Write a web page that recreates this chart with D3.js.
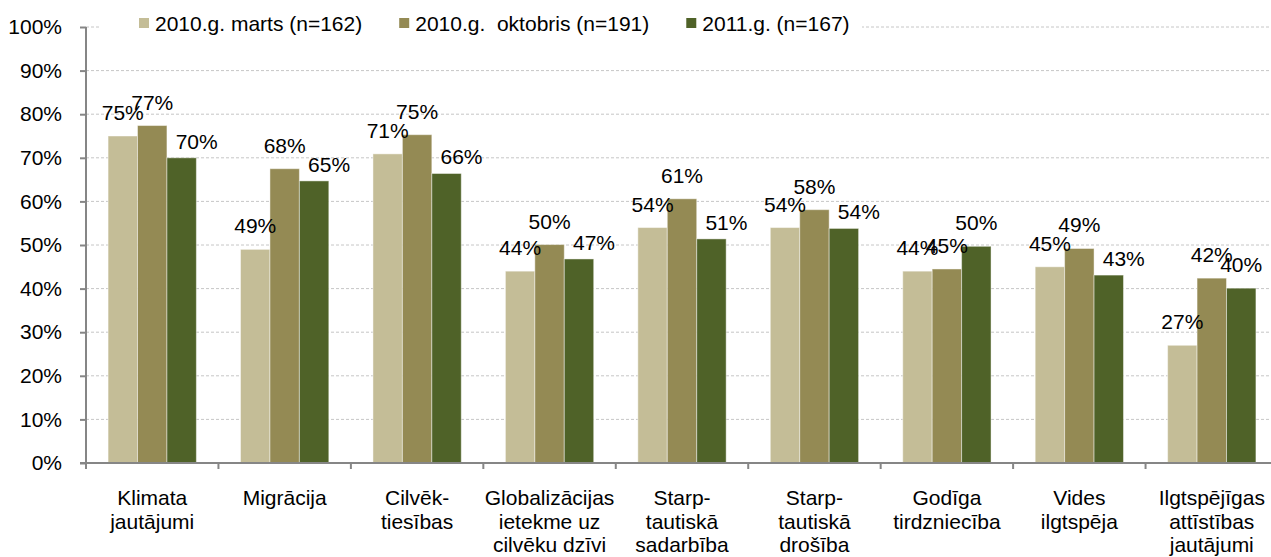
<!DOCTYPE html>
<html>
<head>
<meta charset="utf-8">
<script src="https://cdn.jsdelivr.net/npm/d3@7"></script>
<style>
  body { margin: 0; background: #fff; }
  text { font-family: "Liberation Sans", Arial, sans-serif; fill: #000; }
</style>
</head>
<body>
<script>
var categories = ["Klimata jautājumi", "Migrācija", "Cilvēktiesības", "Globalizācijas ietekme", "Starptautiskā sadarbība", "Starptautiskā drošība", "Godīga tirdzniecība", "Vides ilgtspēja", "Ilgtspējīgas attīstības jautājumi"];
var categoryLines = [
    ["Klimata", "jautājumi"],
    ["Migrācija"],
    ["Cilvēk-", "tiesības"],
    ["Globalizācijas", "ietekme uz", "cilvēku dzīvi"],
    ["Starp-", "tautiskā", "sadarbība"],
    ["Starp-", "tautiskā", "drošība"],
    ["Godīga", "tirdzniecība"],
    ["Vides", "ilgtspēja"],
    ["Ilgtspējīgas", "attīstības", "jautājumi"]
];
var seriesNames = ["2010.g. marts (n=162)", "2010.g.  oktobris (n=191)", "2011.g. (n=167)"];
var marts2010 = [0.750, 0.490, 0.709, 0.440, 0.540, 0.540, 0.440, 0.450, 0.270];
var oktobris2010 = [0.774, 0.675, 0.753, 0.501, 0.606, 0.581, 0.445, 0.492, 0.424];
var g2011 = [0.700, 0.647, 0.664, 0.468, 0.514, 0.538, 0.497, 0.431, 0.401];
var yTicks = [0, 0.1, 0.2, 0.3, 0.4, 0.5, 0.6, 0.7, 0.8, 0.9, 1];

var colors = ["#c4bd97", "#948a54", "#4f6228"];
var seriesValues = [marts2010, oktobris2010, g2011];

var width = 1271, height = 557;
var svg = d3.select("body").append("svg")
    .attr("width", width)
    .attr("height", height);

var x = d3.scaleBand().domain(categories).range([86, 1278]).padding(0);
var xs = d3.scaleBand().domain(d3.range(3)).range([0, x.bandwidth()]).paddingInner(0).paddingOuter(0.75);
var y = d3.scaleLinear().domain([0, 1]).range([463, 27]);

// gridlines
svg.append("g").selectAll("line")
    .data(yTicks.slice(1))
    .enter().append("line")
    .attr("x1", 86).attr("x2", width)
    .attr("y1", function(d) { return y(d); })
    .attr("y2", function(d) { return y(d); })
    .attr("stroke", "#c6c6c6")
    .attr("stroke-dasharray", "3,2")
    .attr("stroke-width", 1);

// bars
var groups = svg.append("g").selectAll("g")
    .data(categories)
    .enter().append("g")
    .attr("transform", function(d) { return "translate(" + x(d) + ",0)"; });

groups.each(function(c, ci) {
    var g = d3.select(this);
    for (var s = 0; s < 3; s++) {
        var v = seriesValues[s][ci];
        g.append("rect")
            .attr("x", xs(s))
            .attr("y", y(v))
            .attr("width", xs.bandwidth())
            .attr("height", y(0) - y(v))
            .attr("fill", colors[s])
            .attr("stroke", "rgba(255,255,255,0.45)")
            .attr("stroke-width", 1);
    }
});

// data labels - the last series label slides right/down when it sits under the middle one
// (unless that would push it off the right edge)
groups.each(function(c, ci) {
    var g = d3.select(this);
    for (var s = 0; s < 3; s++) {
        var v = seriesValues[s][ci];
        var cx = xs(s) + xs.bandwidth() / 2;
        var dx = 0, gap = 16;
        if (s == 2 && v < seriesValues[1][ci] && x(c) + cx + 15 + 22 < width) { dx = 15; gap = 9; }
        g.append("text")
            .attr("x", cx + dx)
            .attr("y", y(v) - gap)
            .attr("text-anchor", "middle")
            .attr("font-size", 21)
            .text(Math.round(v * 100) + "%");
    }
});

// y axis
var yAxis = svg.append("g")
    .attr("transform", "translate(86,0)")
    .call(d3.axisLeft(y).tickValues(yTicks).tickFormat(d3.format(".0%")).tickSize(6).tickPadding(18));
yAxis.select(".domain").attr("stroke", "#868686").attr("stroke-width", 2).attr("d", "M0," + y(1) + "V" + y(0));
yAxis.selectAll(".tick line").attr("stroke", "#868686").attr("stroke-width", 2);
yAxis.selectAll(".tick text").attr("font-size", 21).attr("font-family", "Liberation Sans, Arial, sans-serif").attr("fill", "#000");

// x axis
svg.append("line")
    .attr("x1", 80).attr("x2", width)
    .attr("y1", y(0)).attr("y2", y(0))
    .attr("stroke", "#868686").attr("stroke-width", 2);
svg.append("g").selectAll("line")
    .data(categories)
    .enter().append("line")
    .attr("x1", function(d) { return x(d); })
    .attr("x2", function(d) { return x(d); })
    .attr("y1", y(0)).attr("y2", y(0) + 6)
    .attr("stroke", "#868686").attr("stroke-width", 2);

// category labels
groups.each(function(c, ci) {
    var t = d3.select(this).append("text")
        .attr("text-anchor", "middle")
        .attr("font-size", 21);
    categoryLines[ci].forEach(function(line, li) {
        t.append("tspan")
            .attr("x", x.bandwidth() / 2)
            .attr("y", 505 + li * 23.5)
            .text(line);
    });
});

// legend
svg.append("rect")
    .attr("x", 100).attr("y", 8)
    .attr("width", 762).attr("height", 32)
    .attr("fill", "#fff");
var lx = 139;
seriesNames.forEach(function(name, i) {
    svg.append("rect")
        .attr("x", lx).attr("y", 18)
        .attr("width", 10).attr("height", 10)
        .attr("fill", colors[i]);
    var t = svg.append("text")
        .attr("x", lx + 16).attr("y", 31)
        .attr("font-size", 21)
        .style("white-space", "pre")
        .text(name);
    lx = lx + 16 + t.node().getComputedTextLength() + 37;
});
</script>
</body>
</html>
